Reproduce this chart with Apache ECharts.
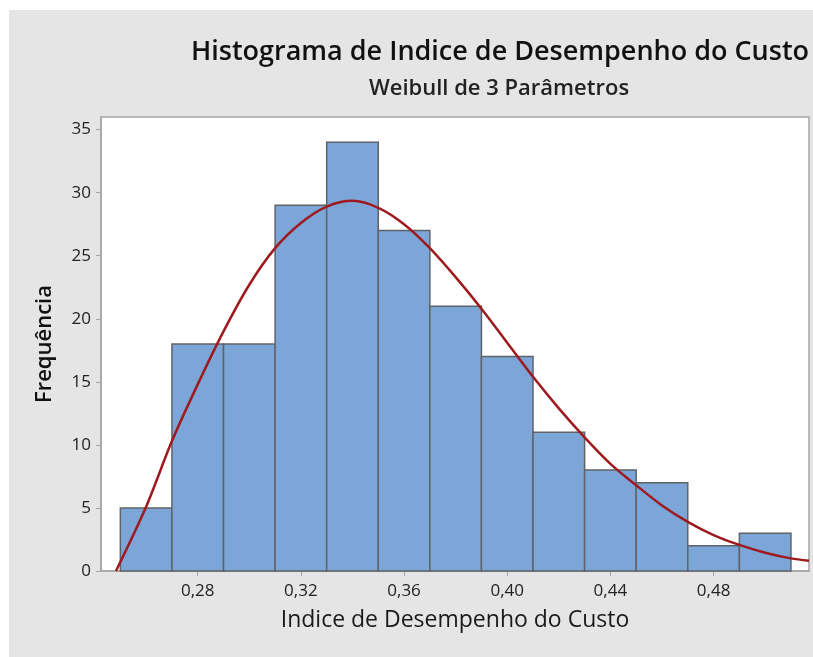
<!DOCTYPE html>
<html>
<head>
<meta charset="utf-8">
<title>Histograma de Indice de Desempenho do Custo</title>
<script src="https://cdn.jsdelivr.net/npm/echarts@6/dist/echarts.min.js"></script>
<style>
  html, body { margin: 0; padding: 0; background: #ffffff; }
  #wrap { position: relative; width: 813px; height: 657px; }
  #panel { position: absolute; left: 9px; top: 10px; right: 0; bottom: 0; background: #e5e5e5; }
  #chart { position: absolute; left: 0; top: 0; width: 813px; height: 657px; }
</style>
</head>
<body>
<div id="wrap">
  <div id="panel"></div>
  <div id="chart"></div>
</div>
<script>
// Histogram bins (lower edge) and counts
const binStart = [0.25, 0.27, 0.29, 0.31, 0.33, 0.35, 0.37, 0.39, 0.41, 0.43, 0.45, 0.47, 0.49];
const binWidth = 0.02;
const counts   = [5, 18, 18, 29, 34, 27, 21, 17, 11, 8, 7, 2, 3];

// Fitted 3-parameter Weibull curve, scaled to frequency
const fitX = [0.2483, 0.26, 0.27, 0.28, 0.29, 0.30, 0.31, 0.32, 0.33, 0.34,
              0.35, 0.36, 0.37, 0.38, 0.39, 0.40, 0.41, 0.42, 0.43, 0.44,
              0.45, 0.46, 0.47, 0.48, 0.49, 0.50, 0.51, 0.517];
const fitY = [0.0, 5.1, 10.3, 14.8, 19.0, 22.7, 25.6, 27.6, 28.9, 29.35,
              28.8, 27.5, 25.6, 23.3, 20.8, 18.1, 15.4, 12.9, 10.6, 8.5,
              6.8, 5.2, 3.9, 2.85, 2.07, 1.45, 1.0, 0.82];

// Axis ticks
const xTicks = [0.28, 0.32, 0.36, 0.40, 0.44, 0.48];
const yTicks = [0, 5, 10, 15, 20, 25, 30, 35];
const yMax = 36;

const titleText = 'Histograma de Indice de Desempenho do Custo';
const subtitleText = 'Weibull de 3 Parâmetros';
const xName = 'Indice de Desempenho do Custo';
const yName = 'Frequência';

const fontFamily = '"Open Sans", "Noto Sans", sans-serif';

const bins = binStart.map((s, i) => [s, s + binWidth, counts[i]]);
const curve = fitX.map((x, i) => [x, fitY[i]]);

const chart = echarts.init(document.getElementById('chart'), null, { renderer: 'canvas' });

chart.setOption({
  backgroundColor: 'transparent',
  animation: false,
  title: [
    {
      text: titleText,
      left: 495, top: 34, textAlign: 'center',
      textStyle: { fontFamily, fontSize: 27, fontWeight: 600, color: '#111111' }
    },
    {
      text: subtitleText,
      left: 494, top: 73, textAlign: 'center',
      textStyle: { fontFamily, fontSize: 22, fontWeight: 600, color: '#222222' }
    }
  ],
  grid: {
    left: 101, top: 117, right: 4, bottom: 86,
    show: true,
    backgroundColor: '#ffffff',
    borderColor: '#a6a6a6',
    borderWidth: 1.5
  },
  xAxis: {
    type: 'value',
    min: 0.2425,
    max: 0.517,
    name: xName,
    nameLocation: 'middle',
    nameGap: 38,
    nameTextStyle: { fontFamily, fontSize: 23, color: '#1a1a1a' },
    axisLine: { show: true, lineStyle: { color: '#a6a6a6', width: 1.5 } },
    axisTick: { show: true, length: 5, customValues: xTicks, lineStyle: { color: '#a6a6a6' } },
    axisLabel: {
      customValues: xTicks,
      margin: 12,
      fontFamily, fontSize: 17, color: '#222222',
      formatter: v => v.toFixed(2).replace('.', ',')
    },
    splitLine: { show: false }
  },
  yAxis: {
    type: 'value',
    min: 0,
    max: yMax,
    name: yName,
    nameLocation: 'middle',
    nameGap: 45,
    nameTextStyle: { fontFamily, fontSize: 22, fontWeight: 600, color: '#111111' },
    axisLine: { show: true, lineStyle: { color: '#a6a6a6', width: 1.5 } },
    axisTick: { show: true, length: 5, customValues: yTicks, lineStyle: { color: '#a6a6a6' } },
    axisLabel: { customValues: yTicks, margin: 10, fontFamily, fontSize: 17, color: '#222222' },
    splitLine: { show: false }
  },
  series: [
    {
      type: 'custom',
      name: 'Histograma',
      data: bins,
      encode: { x: [0, 1], y: 2 },
      renderItem: function (params, api) {
        const p0 = api.coord([api.value(0), api.value(2)]);
        const p1 = api.coord([api.value(1), 0]);
        return {
          type: 'rect',
          shape: { x: p0[0], y: p0[1], width: p1[0] - p0[0], height: p1[1] - p0[1] },
          style: { fill: '#7ba6d7', stroke: '#5f6368', lineWidth: 1.5 }
        };
      },
      z: 2
    },
    {
      type: 'line',
      name: 'Weibull',
      data: curve,
      smooth: 0.3,
      showSymbol: false,
      clip: true,
      lineStyle: { color: '#9e1a1f', width: 2.5 },
      z: 3
    }
  ]
});
</script>
</body>
</html>
